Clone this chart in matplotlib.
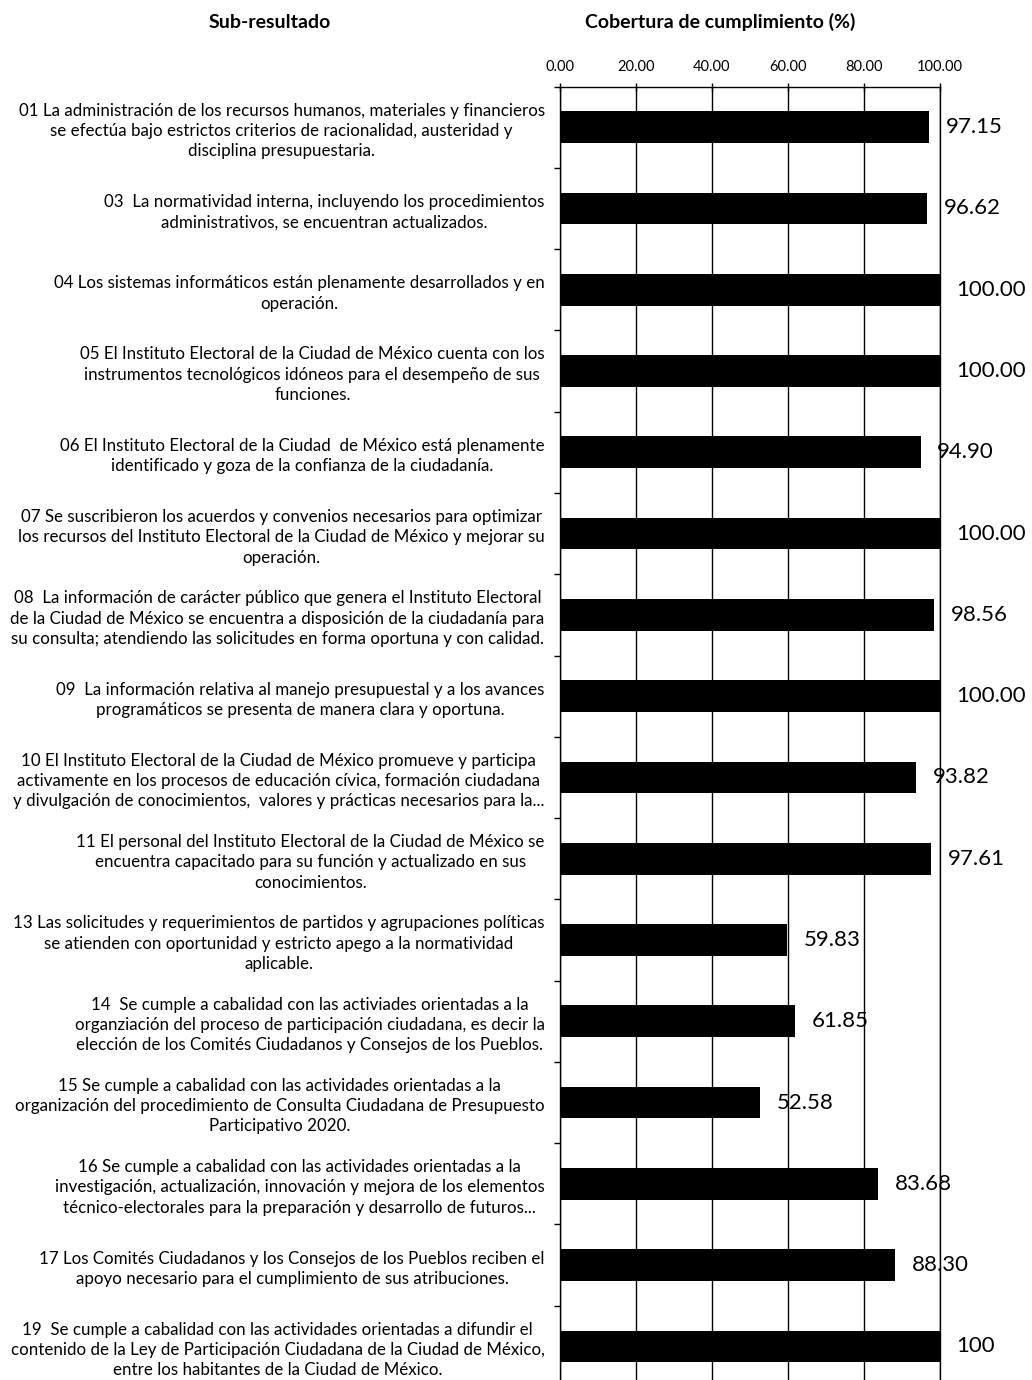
import numpy as np
import matplotlib
matplotlib.use("Agg")
import matplotlib.pyplot as plt

plt.rcParams['font.family'] = ['Lato', 'DejaVu Sans']

categorias = [
    "01 La administración de los recursos humanos, materiales y financieros\nse efectúa bajo estrictos criterios de racionalidad, austeridad y\ndisciplina presupuestaria.",
    "03  La normatividad interna, incluyendo los procedimientos\nadministrativos, se encuentran actualizados.",
    "04 Los sistemas informáticos están plenamente desarrollados y en\noperación.",
    "05 El Instituto Electoral de la Ciudad de México cuenta con los\ninstrumentos tecnológicos idóneos para el desempeño de sus\nfunciones.",
    "06 El Instituto Electoral de la Ciudad  de México está plenamente\nidentificado y goza de la confianza de la ciudadanía.",
    "07 Se suscribieron los acuerdos y convenios necesarios para optimizar\nlos recursos del Instituto Electoral de la Ciudad de México y mejorar su\noperación.",
    "08  La información de carácter público que genera el Instituto Electoral\nde la Ciudad de México se encuentra a disposición de la ciudadanía para\nsu consulta; atendiendo las solicitudes en forma oportuna y con calidad.",
    "09  La información relativa al manejo presupuestal y a los avances\nprogramáticos se presenta de manera clara y oportuna.",
    "10 El Instituto Electoral de la Ciudad de México promueve y participa\nactivamente en los procesos de educación cívica, formación ciudadana\ny divulgación de conocimientos,  valores y prácticas necesarios para la...",
    "11 El personal del Instituto Electoral de la Ciudad de México se\nencuentra capacitado para su función y actualizado en sus\nconocimientos.",
    "13 Las solicitudes y requerimientos de partidos y agrupaciones políticas\nse atienden con oportunidad y estricto apego a la normatividad\naplicable.",
    "14  Se cumple a cabalidad con las activiades orientadas a la\norganziación del proceso de participación ciudadana, es decir la\nelección de los Comités Ciudadanos y Consejos de los Pueblos.",
    "15 Se cumple a cabalidad con las actividades orientadas a la\norganización del procedimiento de Consulta Ciudadana de Presupuesto\nParticipativo 2020.",
    "16 Se cumple a cabalidad con las actividades orientadas a la\ninvestigación, actualización, innovación y mejora de los elementos\ntécnico-electorales para la preparación y desarrollo de futuros...",
    "17 Los Comités Ciudadanos y los Consejos de los Pueblos reciben el\napoyo necesario para el cumplimiento de sus atribuciones.",
    "19  Se cumple a cabalidad con las actividades orientadas a difundir el\ncontenido de la Ley de Participación Ciudadana de la Ciudad de México,\nentre los habitantes de la Ciudad de México.",
]
valores = [97.15, 96.62, 100.00, 100.00, 94.90, 100.00, 98.56, 100.00,
           93.82, 97.61, 59.83, 61.85, 52.58, 83.68, 88.30, 100.00]
etiquetas = ["97.15", "96.62", "100.00", "100.00", "94.90", "100.00", "98.56", "100.00",
             "93.82", "97.61", "59.83", "61.85", "52.58", "83.68", "88.30", "100"]
ticks_x = [0, 20, 40, 60, 80, 100]

fig = plt.figure(figsize=(10.32, 13.8), dpi=100)
ax = fig.add_axes([0.5426, -0.0051, 0.3682, 0.9424])

y = np.arange(len(valores))
ax.barh(y, valores, height=0.39, color='black', zorder=3)
ax.set_ylim(len(valores) - 0.5, -0.5)
ax.set_xlim(0, 100)

for i in range(len(valores)):
    ax.annotate(etiquetas[i], xy=(valores[i], y[i]), xytext=(12, 0),
                textcoords='offset points', va='center', ha='left',
                fontsize=16, annotation_clip=False)

ax.xaxis.tick_top()
ax.set_xticks(ticks_x)
ax.set_xticklabels(["%.2f" % t for t in ticks_x], fontsize=10.5)
ax.tick_params(axis='x', direction='inout', length=6, width=1, pad=6)
ax.grid(axis='x', color='black', linewidth=1, zorder=1)

ax.set_yticks(y)
ax.set_yticklabels(categorias, fontsize=12.2, multialignment='center', linespacing=1.33)
ax.tick_params(axis='y', length=0, pad=11)
ax.set_yticks(np.arange(len(valores) + 1) - 0.5, minor=True)
ax.tick_params(axis='y', which='minor', direction='out', length=4, width=1)

for s in ['top', 'left', 'right']:
    ax.spines[s].set_linewidth(1)
ax.spines['bottom'].set_visible(False)

fig.text(270 / 1032, 1 - 22 / 1380, "Sub-resultado", ha='center', va='center',
         fontsize=14, fontweight='bold')
fig.text(720 / 1032, 1 - 22 / 1380, "Cobertura de cumplimiento (%)", ha='center', va='center',
         fontsize=14, fontweight='bold')

fig.savefig("out.png", dpi=100)
